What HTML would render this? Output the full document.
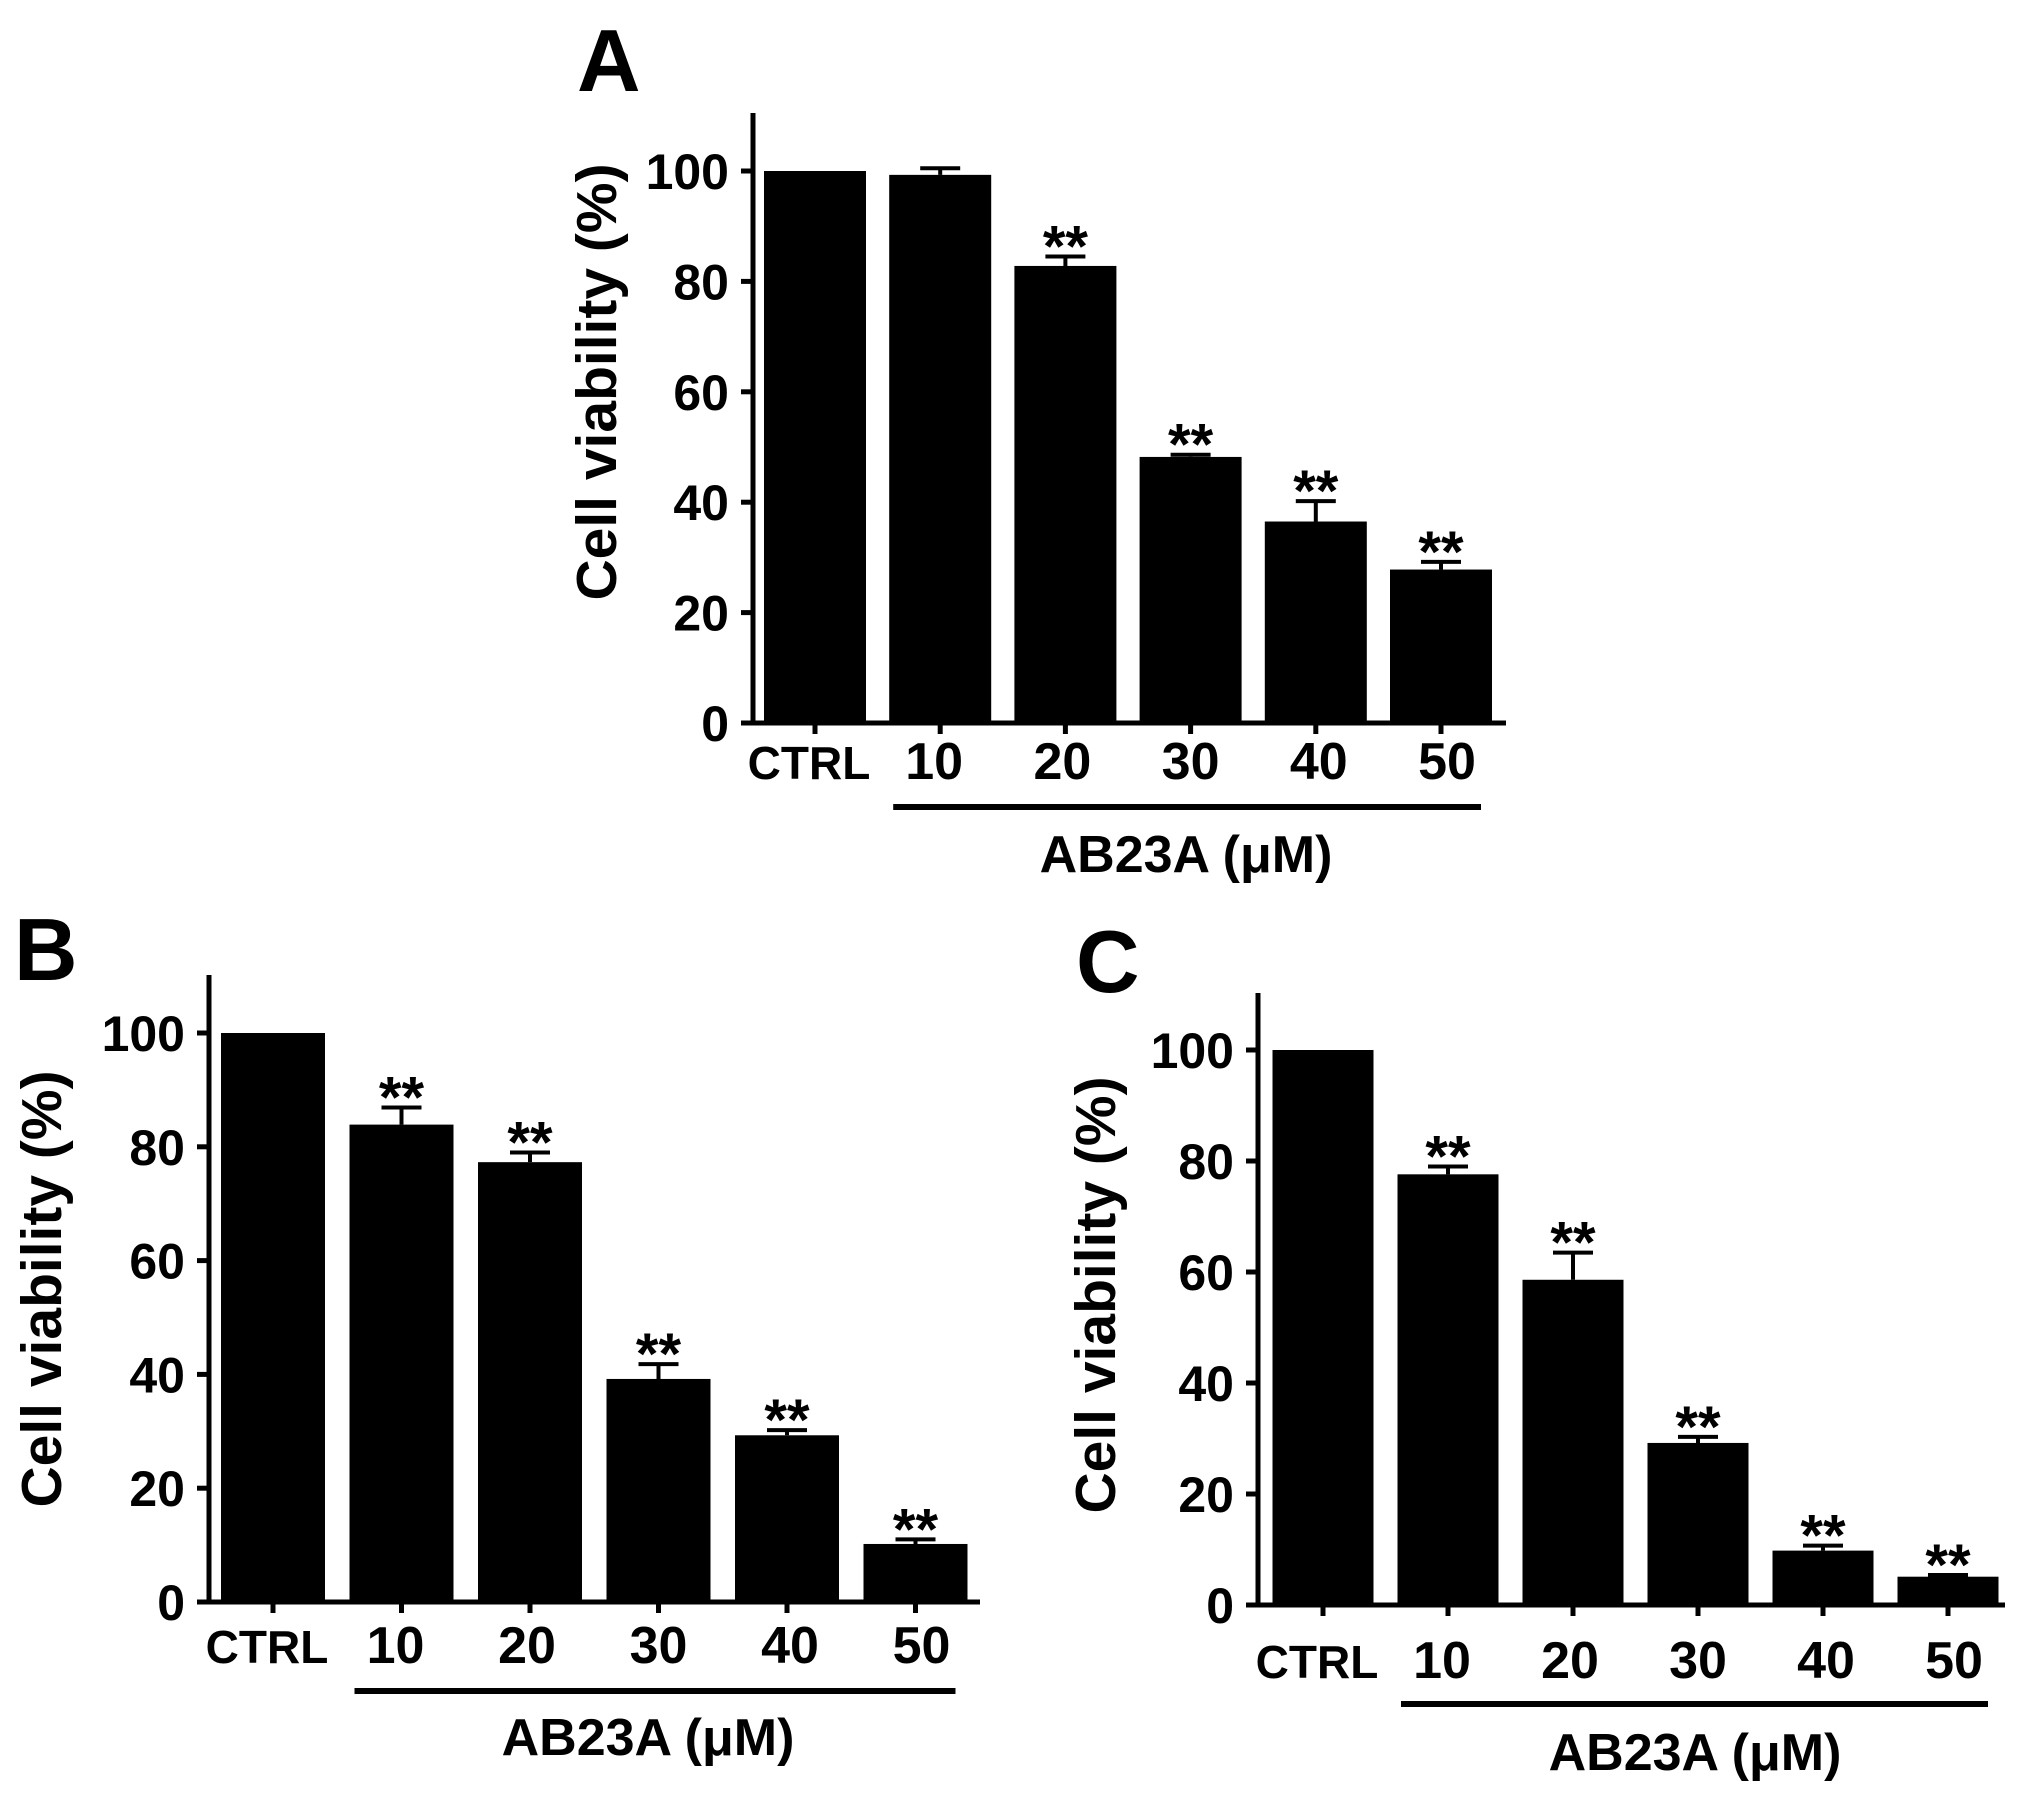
<!DOCTYPE html>
<html><head><meta charset="utf-8"><style>
html,body{margin:0;padding:0;background:#fff;}
svg{display:block;font-family:"Liberation Sans",Arial,sans-serif;font-weight:bold;}
</style></head><body>
<svg id="fig" width="2031" height="1793" viewBox="0 0 2031 1793" xmlns="http://www.w3.org/2000/svg"></svg>
<script>
const categories = ["CTRL","10","20","30","40","50"];
const yTicks = [0,20,40,60,80,100];
const valuesA = [100,99.3,82.8,48.2,36.5,27.8];
const errA = [0,1.2,1.7,0.4,3.7,1.4];
const starsA = [false,false,true,true,true,true];
const valuesB = [100,83.9,77.3,39.2,29.3,10.2];
const errB = [0,3.0,1.7,2.6,0.9,0.8];
const starsB = [false,true,true,true,true,true];
const valuesC = [100,77.6,58.6,29.2,9.8,5.1];
const errC = [0,1.4,4.9,1.1,0.9,0.3];
const starsC = [false,true,true,true,true,true];

const NS = "http://www.w3.org/2000/svg";
const svg = document.getElementById("fig");
function mk(tag, attrs, parent){
  const e = document.createElementNS(NS, tag);
  for (const k in attrs) e.setAttribute(k, attrs[k]);
  (parent||svg).appendChild(e);
  return e;
}

function panel(p, values, errs, stars){
  const g = mk("g", {});
  
  
  const yScale = v => p.base - v * (p.base - p.y100) / 100;
  const xScale = i => p.x0 + i * p.pitch;

  const L = mk("text", {x:p.lx, y:p.ly, "font-size":88}, g);
  L.textContent = p.letter;
  
  

  values.forEach((v,i)=>{
    const cx = xScale(i);
    const r = mk("rect", {x:cx - p.bw/2, y:yScale(v), width:p.bw, height:p.base - yScale(v), fill:"#000"}, g);
    
    
    if (errs[i] > 0){
      const top = yScale(v + errs[i]);
      const eb = mk("path", {d:`M${cx} ${yScale(v)} V${top} M${cx-20} ${top} H${cx+20}`, stroke:"#000", "stroke-width":4, fill:"none"}, g);
      
      
    }
    if (stars[i]){
      const top = yScale(v + errs[i]);
      const s = mk("text", {x:cx, y:top + 10, "text-anchor":"middle", "font-size":58}, g);
      s.textContent = "**";
      
      
    }
  });

  const ya = mk("line", {x1:p.ax, y1:p.top, x2:p.ax, y2:p.base+2, stroke:"#000", "stroke-width":5}, g);
  
  
  const xa = mk("line", {x1:p.ax - 12, y1:p.base, x2:p.axEnd, y2:p.base, stroke:"#000", "stroke-width":5}, g);
  
  

  yTicks.forEach(t=>{
    const y = yScale(t);
    const tk = mk("line", {x1:p.ax - 12, y1:y, x2:p.ax, y2:y, stroke:"#000", "stroke-width":5}, g);
    
    
    const tl = mk("text", {x:p.ax - 24, y:y + 18, "text-anchor":"end", "font-size":50}, g);
    tl.textContent = t;
    
    
  });

  categories.forEach((c,i)=>{
    const cx = xScale(i);
    const tk = mk("line", {x1:cx, y1:p.base, x2:cx, y2:p.base + 11, stroke:"#000", "stroke-width":5}, g);
    
    
    const lx = i===0 ? cx - 6 : cx + (i - 3) * 3;
    const tl = mk("text", {x:lx, y:p.base + p.labOff + 18, "text-anchor":"middle", "font-size":i===0 ? 46 : 52}, g);
    tl.textContent = c;
    
    
  });

  const br = mk("line", {x1:xScale(1) - 47, y1:p.base + p.brOff, x2:xScale(5) + 40, y2:p.base + p.brOff, stroke:"#000", "stroke-width":6}, g);
  
  
  const xt = mk("text", {x:p.xtX, y:p.xtY, "text-anchor":"middle", "font-size":52}, g);
  xt.textContent = "AB23A (μM)";
  
  

  const yt = mk("text", {x:0, y:0, "text-anchor":"middle", "font-size":57, transform:`translate(${p.ytX + 18},${p.ytY}) rotate(-90)`}, g);
  yt.textContent = "Cell viability (%)";
  
  
}

panel({letter:"A", lx:577, ly:91, ax:753, top:113, base:723, y100:171, x0:815, pitch:125.2, bw:102, axEnd:1506,
       labOff:38, brOff:84, xtX:1186, xtY:872, ytX:598, ytY:382}, valuesA, errA, starsA);
panel({letter:"B", lx:14, ly:980, ax:209, top:975, base:1602, y100:1033, x0:273, pitch:128.5, bw:104, axEnd:980,
       labOff:43, brOff:89, xtX:648, xtY:1755, ytX:43, ytY:1289}, valuesB, errB, starsB);
panel({letter:"C", lx:1076, ly:992, ax:1258, top:993, base:1605, y100:1050, x0:1323, pitch:125, bw:101, axEnd:2005,
       labOff:55, brOff:99, xtX:1695, xtY:1770, ytX:1097, ytY:1295}, valuesC, errC, starsC);
</script>
</body></html>
